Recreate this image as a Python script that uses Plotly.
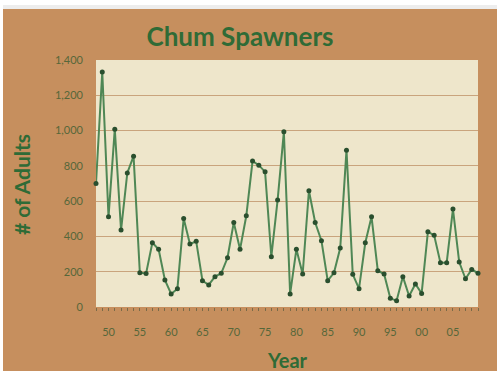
import plotly.graph_objects as go

# Chum salmon spawner counts by return year
years = list(range(1948, 2010))
adults = [
    700, 1332, 511, 1008, 436, 760, 855, 194, 190, 364,
    327, 153, 74, 104, 502, 357, 372, 149, 125, 172,
    191, 279, 479, 327, 517, 827, 804, 766, 285, 606,
    993, 74, 327, 187, 659, 479, 376, 149, 194, 334,
    889, 185, 104, 364, 511, 206, 187, 49, 36, 172,
    62, 130, 77, 427, 406, 251, 251, 555, 255, 160,
    213, 191,
]
x_tick_years = [1950, 1955, 1960, 1965, 1970, 1975, 1980, 1985, 1990, 1995, 2000, 2005]
x_tick_text = ["50", "55", "60", "65", "70", "75", "80", "85", "90", "95", "00", "05"]
y_ticks = [0, 200, 400, 600, 800, 1000, 1200, 1400]

W, H = 497, 371
L, R, T, B = 96, 19, 60, 64
PW, PH = W - L - R, H - T - B

def px_x(p):
    return (p - L) / PW

def px_y(p):
    return (H - B - p) / PH

BROWN = "#C68F5E"
CREAM = "#EEE6CB"
GREEN = "#2F6B36"
LABEL = "#56673A"

fig = go.Figure()
fig.add_trace(go.Scatter(
    x=years, y=adults, mode="lines+markers",
    line=dict(color="#4F8755", width=2),
    marker=dict(color="#2A4F2E", size=5),
    cliponaxis=False, showlegend=False,
))

shapes = [
    # white strip above the panel, with a soft shadow
    dict(type="rect", xref="paper", yref="paper", x0=px_x(-5), x1=px_x(W + 5),
         y0=px_y(9), y1=px_y(-5), fillcolor="white", line_width=0, layer="above"),
    dict(type="rect", xref="paper", yref="paper", x0=px_x(-5), x1=px_x(W + 5),
         y0=px_y(9), y1=px_y(5), fillcolor="#ededed", line_width=0, layer="above"),
    dict(type="rect", xref="paper", yref="paper", x0=px_x(-5), x1=px_x(3),
         y0=px_y(H + 5), y1=px_y(-5), fillcolor="white", line_width=0, layer="above"),
]

fig.update_layout(
    width=W, height=H,
    margin=dict(l=L, r=R, t=T, b=B),
    paper_bgcolor=BROWN,
    plot_bgcolor=CREAM,
    title=dict(text="<b>Chum Spawners</b>", x=px_x(240), xref="paper", xanchor="center",
               y=1 - 37 / H, yanchor="middle",
               font=dict(family="Lato", size=26, color=GREEN)),
    xaxis=dict(
        range=[1948, 2009], tickvals=x_tick_years, ticktext=x_tick_text,
        showgrid=False, zeroline=False, showline=False,
        ticks="outside", ticklen=3, tickcolor="#7B6B48",
        minor=dict(tick0=1948, dtick=1, ticks="outside", ticklen=3, tickcolor="#7B6B48", showgrid=False),
        ticklabelstandoff=12,
        tickfont=dict(family="Lato", size=11, color=LABEL),
    ),
    yaxis=dict(
        range=[0, 1400], tickvals=y_ticks, tickformat=",d",
        showgrid=True, gridcolor="#C9A47D", gridwidth=1,
        zeroline=False, showline=False, ticks="",
        ticklabelstandoff=12,
        tickfont=dict(family="Lato", size=11, color=LABEL),
    ),
    annotations=[
        dict(text="<b># of Adults</b>", xref="paper", yref="paper", x=px_x(21), y=px_y(185),
             textangle=-90, showarrow=False, xanchor="center", yanchor="middle",
             font=dict(family="Lato", size=21, color=GREEN)),
        dict(text="<b>Year</b>", xref="paper", yref="paper", x=px_x(287), y=px_y(360),
             showarrow=False, xanchor="center", yanchor="middle",
             font=dict(family="Lato", size=20, color=GREEN)),
    ],
    shapes=shapes,
)

fig.write_html("out.html")
